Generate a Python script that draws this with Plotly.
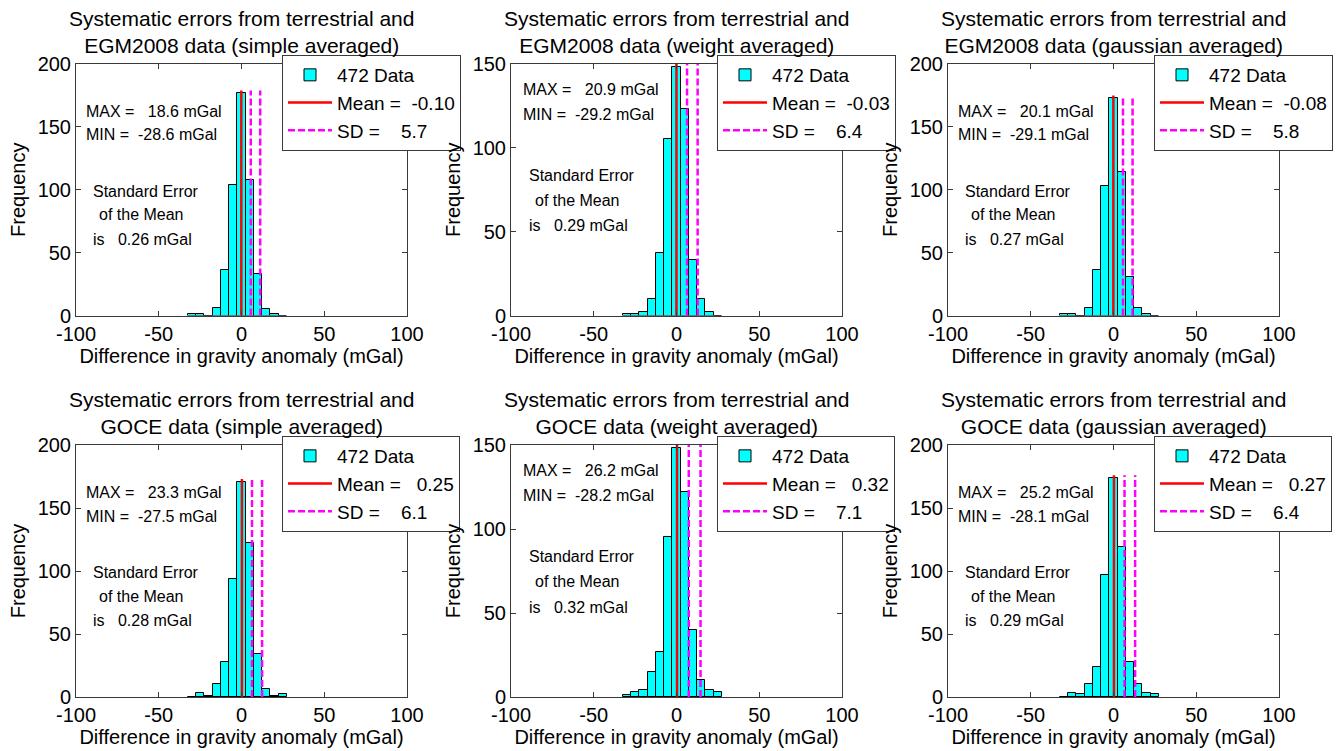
import plotly.graph_objects as go

# ---------------- data ----------------
bin_centers = [-30, -25, -20, -15, -10, -5, 0, 5, 10, 15, 20, 25]

counts_egm_simple   = [1, 1, 0, 6, 36, 104, 177, 108, 33, 5, 1, 0]
counts_egm_weight   = [1, 1, 2, 10, 37, 105, 148, 123, 33, 10, 2, 0]
counts_egm_gaussian = [1, 1, 0, 6, 36, 103, 173, 114, 31, 6, 1, 0]
counts_goce_simple  = [0, 3, 1, 10, 28, 94, 171, 122, 34, 6, 1, 2]
counts_goce_weight  = [1, 3, 4, 15, 27, 95, 148, 122, 40, 10, 4, 3]
counts_goce_gauss   = [0, 3, 2, 10, 24, 97, 174, 119, 28, 10, 3, 2]

titles = [
    "Systematic errors from terrestrial and<br>EGM2008 data (simple averaged)",
    "Systematic errors from terrestrial and<br>EGM2008 data (weight averaged)",
    "Systematic errors from terrestrial and<br>EGM2008 data (gaussian averaged)",
    "Systematic errors from terrestrial and<br>GOCE data (simple averaged)",
    "Systematic errors from terrestrial and<br>GOCE data (weight averaged)",
    "Systematic errors from terrestrial and<br>GOCE data (gaussian averaged)",
]
means = [-0.10, -0.03, -0.08, 0.25, 0.32, 0.27]
sds = [5.7, 6.4, 5.8, 6.1, 7.1, 6.4]
max_vals = [18.6, 20.9, 20.1, 23.3, 26.2, 25.2]
min_vals = [-28.6, -29.2, -29.1, -27.5, -28.2, -28.1]
std_errs = [0.26, 0.29, 0.27, 0.28, 0.32, 0.29]
n_data = 472
y_max = [200, 150, 200, 200, 150, 200]
y_ticks_200 = [0, 50, 100, 150, 200]
y_ticks_150 = [0, 50, 100, 150]
x_ticks = [-100, -50, 0, 50, 100]

all_counts = [counts_egm_simple, counts_egm_weight, counts_egm_gaussian,
              counts_goce_simple, counts_goce_weight, counts_goce_gauss]

# ---------------- layout helpers ----------------
W, H = 1337, 751
FONT = "Liberation Sans, Arial, sans-serif"
NB = "\u00a0"

col_px = [(76, 407), (511, 842), (948, 1279)]
row_px = [(64, 315.5), (445, 697)]


def xdom(c):
    a, b = col_px[c]
    return [a / W, b / W]


def ydom(r):
    a, b = row_px[r]
    return [1 - b / H, 1 - a / H]


def nb(s):
    return s.replace(" ", NB)


fig = go.Figure()
annotations = []
layout_extra = {}

for i in range(6):
    r, c = divmod(i, 3)
    k = i + 1
    xa = "x" if k == 1 else f"x{k}"
    ya = "y" if k == 1 else f"y{k}"
    leg = "legend" if k == 1 else f"legend{k}"
    counts = all_counts[i]
    top = max(counts) + 2

    fig.add_trace(go.Bar(
        x=bin_centers, y=counts, width=5, xaxis=xa, yaxis=ya,
        marker=dict(color="#00FFFF", line=dict(color="#000000", width=1)),
        name=f"{n_data} Data", legend=leg, hoverinfo="skip",
    ))
    m = means[i]
    s = sds[i]
    fig.add_trace(go.Scatter(
        x=[m, m], y=[0, top], mode="lines", xaxis=xa, yaxis=ya,
        line=dict(color="#FF0000", width=2.5),
        name=nb(f"Mean = {m:6.2f}"), legend=leg, hoverinfo="skip",
    ))
    fig.add_trace(go.Scatter(
        x=[m + s, m + s, None, m + 2 * s, m + 2 * s],
        y=[0, top, None, 0, top], mode="lines", xaxis=xa, yaxis=ya,
        line=dict(color="#FF00FF", width=2.5, dash="7px,3px"),
        name=nb(f"SD = {s:6.1f}"), legend=leg, hoverinfo="skip",
    ))

    axis_common = dict(
        showline=True, linecolor="#3a3a3a", linewidth=1, mirror="ticks",
        ticks="inside", ticklen=5, tickcolor="#3a3a3a", showgrid=False,
        zeroline=False, automargin=False,
        tickfont=dict(family=FONT, size=20, color="#000000"),
    )
    layout_extra["xaxis" if k == 1 else f"xaxis{k}"] = dict(
        axis_common, domain=xdom(c), anchor=ya, range=[-100, 100],
        tickvals=x_ticks, ticktext=[str(v) for v in x_ticks],
        title=dict(text="Difference in gravity anomaly (mGal)",
                   font=dict(family=FONT, size=20, color="#000000"), standoff=4),
    )
    yt = y_ticks_200 if y_max[i] == 200 else y_ticks_150
    layout_extra["yaxis" if k == 1 else f"yaxis{k}"] = dict(
        axis_common, domain=ydom(r), anchor=xa, range=[0, y_max[i]],
        tickvals=yt, ticktext=[str(v) for v in yt],
        title=dict(text="Frequency",
                   font=dict(family=FONT, size=20, color="#000000"), standoff=6),
    )
    lx = (col_px[c][0] + 206) / W
    ly = 1 - (row_px[r][0] - 9) / H
    layout_extra[leg] = dict(
        x=lx, y=ly, xanchor="left", yanchor="top",
        bgcolor="#FFFFFF", bordercolor="#3a3a3a", borderwidth=1,
        font=dict(family=FONT, size=19, color="#000000"),
        itemwidth=44, tracegroupgap=0,
    )

    # title
    ty = row_px[r][0] - 32.5
    annotations.append(dict(
        text=titles[i], xref="paper", yref="paper",
        x=(col_px[c][0] + col_px[c][1]) / 2 / W, y=1 - ty / H,
        xanchor="center", yanchor="middle", showarrow=False,
        font=dict(family=FONT, size=21, color="#000000"),
    ))

    # inside text
    if y_max[i] == 200:
        ys = [0.813, 0.718, 0.495, 0.40, 0.303]
        xs = [0.024, 0.024, 0.045, 0.063, 0.045]
    else:
        ys = [0.90, 0.80, 0.558, 0.457, 0.357]
        xs = [0.030, 0.030, 0.048, 0.066, 0.048]
    texts = [
        nb(f"MAX = {max_vals[i]:6.1f} mGal"),
        nb(f"MIN = {min_vals[i]:6.1f} mGal"),
        "Standard Error",
        "of the Mean",
        nb(f"is   {std_errs[i]:.2f} mGal"),
    ]
    for tx, xx, yy in zip(texts, xs, ys):
        annotations.append(dict(
            text=tx, xref=f"{xa} domain", yref=f"{ya} domain",
            x=xx, y=yy, xanchor="left", yanchor="middle", showarrow=False,
            font=dict(family=FONT, size=16, color="#000000"),
        ))

fig.update_layout(
    width=W, height=H, margin=dict(l=0, r=0, t=0, b=0),
    paper_bgcolor="#FFFFFF", plot_bgcolor="#FFFFFF",
    showlegend=True, bargap=0, barmode="overlay",
    font=dict(family=FONT, color="#000000"),
    annotations=annotations,
    **layout_extra,
)

fig.write_html("out.html")
